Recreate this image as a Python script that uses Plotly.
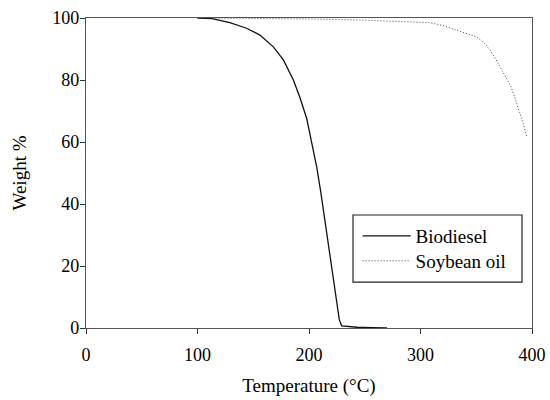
import plotly.graph_objects as go

# Biodiesel TGA curve (temperature °C, weight %)
bio_temp = [100, 113, 129, 144, 156, 168, 177, 186, 192, 198, 202.4, 206.9, 210.5, 213, 216, 220, 224, 227.2, 229.3, 235, 243, 256, 270]
bio_wt = [100, 99.8, 98.5, 96.7, 94.5, 90.7, 86.5, 80.0, 74.2, 67.5, 59.8, 52.0, 44.0, 38.0, 30.5, 20.5, 10.6, 2.6, 0.7, 0.45, 0.25, 0.1, 0.0]

# Soybean oil TGA curve
soy_temp = [100, 150, 200, 250, 264, 285, 308, 320, 332.5, 342, 350.4, 357, 362.3, 367, 371.3, 376, 380.3, 383.5, 386.3, 389.5, 392.2, 395.2]
soy_wt = [100, 99.9, 99.7, 99.3, 99.1, 98.9, 98.5, 97.6, 96.1, 95.0, 93.9, 92.0, 89.7, 87.0, 84.3, 81.5, 78.5, 75.5, 72.4, 69.0, 65.9, 61.8]

x_ticks = [0, 100, 200, 300, 400]
y_ticks = [0, 20, 40, 60, 80, 100]

FONT = "Liberation Serif"

fig = go.Figure()
fig.add_trace(go.Scatter(x=bio_temp, y=bio_wt, mode="lines", name="Biodiesel", showlegend=True,
                         line=dict(color="#111111", width=1.3), legend="legend"))
fig.add_trace(go.Scatter(x=soy_temp, y=soy_wt, mode="lines", name="Soybean oil", showlegend=True,
                         line=dict(color="#444444", width=1, dash="1px,2px"), legend="legend2"))

axis_common = dict(showline=True, linecolor="#555555", linewidth=1.3, mirror=True,
                   ticks="outside", ticklen=5, tickcolor="#333333", tickwidth=1,
                   showgrid=False, zeroline=False, automargin=False,
                   tickfont=dict(family=FONT, size=18, color="black"))

fig.update_xaxes(range=[0, 400], tickvals=x_ticks, ticklabelstandoff=5,
                 title=dict(text="Temperature (°C)", font=dict(family=FONT, size=19, color="black"), standoff=14),
                 **axis_common)
fig.update_yaxes(range=[0, 100], tickvals=y_ticks, ticklabelstandoff=-3,
                 title=dict(text="Weight %", font=dict(family=FONT, size=19, color="black"), standoff=20),
                 **axis_common)

# legend frame
fig.add_shape(type="rect", xref="paper", yref="paper",
              x0=0.5987, x1=0.9776, y0=0.148, y1=0.3645,
              line=dict(color="#222222", width=1.2), fillcolor="white", layer="below")

leg_common = dict(xanchor="left", yanchor="middle", borderwidth=0, bgcolor="rgba(0,0,0,0)",
                  font=dict(family=FONT, size=19, color="black"), itemwidth=48)

fig.update_layout(
    width=550, height=400,
    showlegend=True,
    margin=dict(l=86, r=18, t=18, b=72),
    paper_bgcolor="white", plot_bgcolor="white",
    font=dict(family=FONT, color="black"),
    legend=dict(x=0.609, y=0.2968, **leg_common),
    legend2=dict(x=0.609, y=0.2162, **leg_common),
)

fig.write_html("out.html", config={"displayModeBar": False},
               post_script="document.body.style.margin='0px';")
